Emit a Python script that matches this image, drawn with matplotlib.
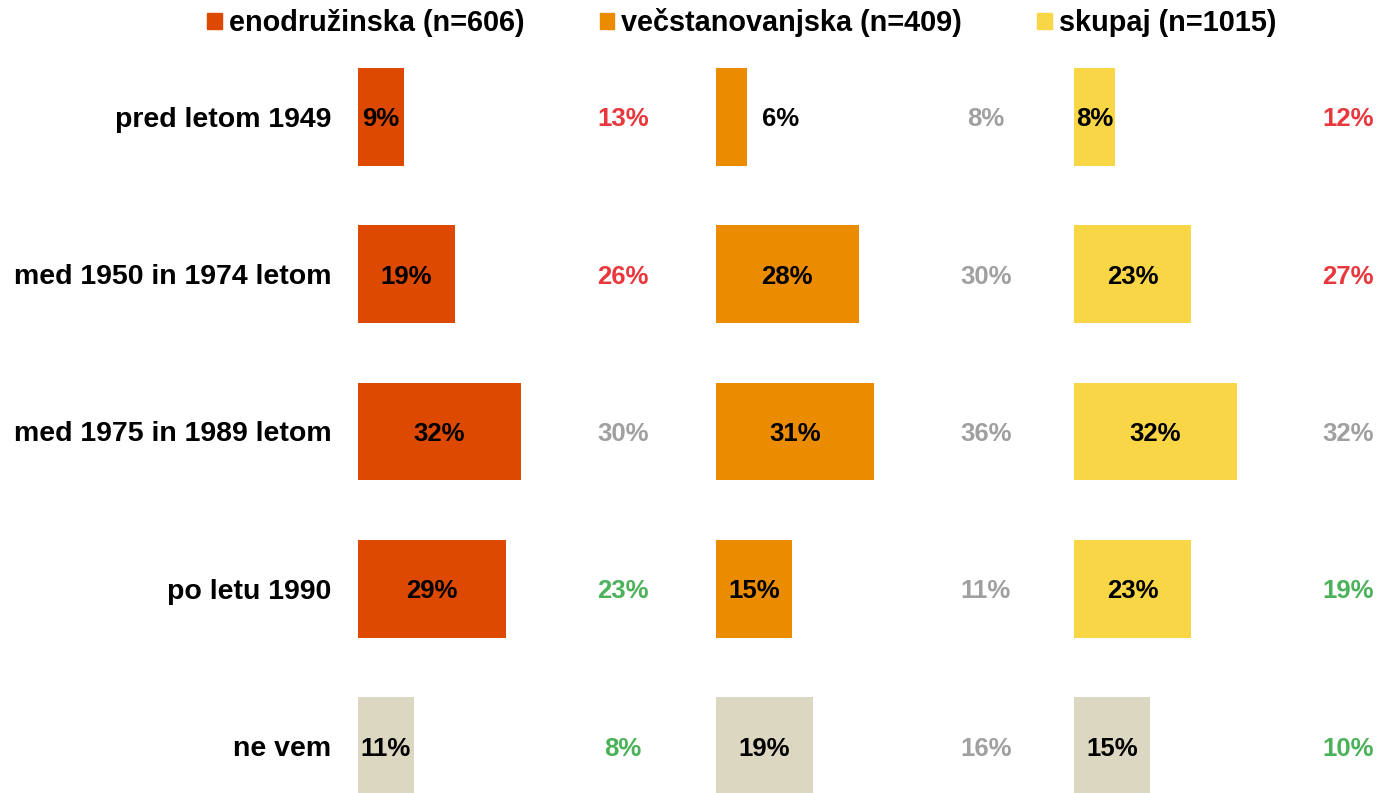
import numpy as np
import matplotlib
matplotlib.use("Agg")
import matplotlib.pyplot as plt
from matplotlib.patches import Patch

plt.rcParams["font.family"] = ["Liberation Sans", "DejaVu Sans"]
plt.rcParams["font.weight"] = "bold"

# data
categories = ["pred letom 1949", "med 1950 in 1974 letom", "med 1975 in 1989 letom",
              "po letu 1990", "ne vem"]
series_names = ["enodružinska (n=606)", "večstanovanjska (n=409)", "skupaj (n=1015)"]
values = [
    [9, 19, 32, 29, 11],
    [6, 28, 31, 15, 19],
    [8, 23, 32, 23, 15],
]
compare_values = [
    [13, 26, 30, 23, 8],
    [8, 30, 36, 11, 16],
    [12, 27, 32, 19, 10],
]
# r = higher, g = lower, n = no notable difference
compare_status = [
    ["r", "r", "n", "g", "g"],
    ["n", "n", "n", "n", "n"],
    ["r", "r", "n", "g", "g"],
]

series_colors = ["#DD4900", "#EB8C00", "#F9D646"]
unknown_color = "#DCD7C1"
status_colors = {"r": "#E8383D", "n": "#A0A0A0", "g": "#4CB25A"}

W, H = 1379, 793
fig = plt.figure(figsize=(W / 100, H / 100), dpi=100)

px_per_pct = 5.09
panel_left = [358, 716, 1074]
panel_width = 358
compare_x = [52.1, 53.0, 53.8]
row_step = 157.25
top = 117 - row_step / 2
bottom = 746 + row_step / 2

y = np.arange(len(categories))
for i, left in enumerate(panel_left):
    ax = fig.add_axes([left / W, 1 - bottom / H, panel_width / W, (bottom - top) / H])
    colors = [series_colors[i]] * (len(categories) - 1) + [unknown_color]
    ax.barh(y, values[i], height=0.623, color=colors)
    ax.set_xlim(0, panel_width / px_per_pct)
    ax.set_ylim(len(categories) - 0.5, -0.5)
    for v, yy in zip(values[i], y):
        if v < 7:
            ax.text(v + 3.1, yy, f"{v}%", ha="left", va="center_baseline", fontsize=18.5)
        else:
            ax.text(v / 2, yy, f"{v}%", ha="center", va="center_baseline", fontsize=18.5)
    for c, s, yy in zip(compare_values[i], compare_status[i], y):
        ax.text(compare_x[i], yy, f"{c}%", ha="center", va="center_baseline",
                fontsize=18.5, color=status_colors[s])
    for sp in ax.spines.values():
        sp.set_visible(False)
    ax.set_xticks([])
    if i == 0:
        ax.set_yticks(y)
        ax.set_yticklabels(categories, fontsize=20.5, fontweight="bold")
        ax.tick_params(axis="y", length=0, pad=19)
    else:
        ax.set_yticks([])
    ax.patch.set_alpha(0)

handles = [Patch(color=c) for c in series_colors]
fig.legend(handles, series_names, loc="center", bbox_to_anchor=(0.538, 0.971),
           ncol=3, frameon=False, prop={"size": 20.8, "weight": "bold"},
           handlelength=0.5, handleheight=0.5, handletextpad=0.25,
           columnspacing=2.6, borderpad=0)

fig.savefig("out.png", dpi=100)
